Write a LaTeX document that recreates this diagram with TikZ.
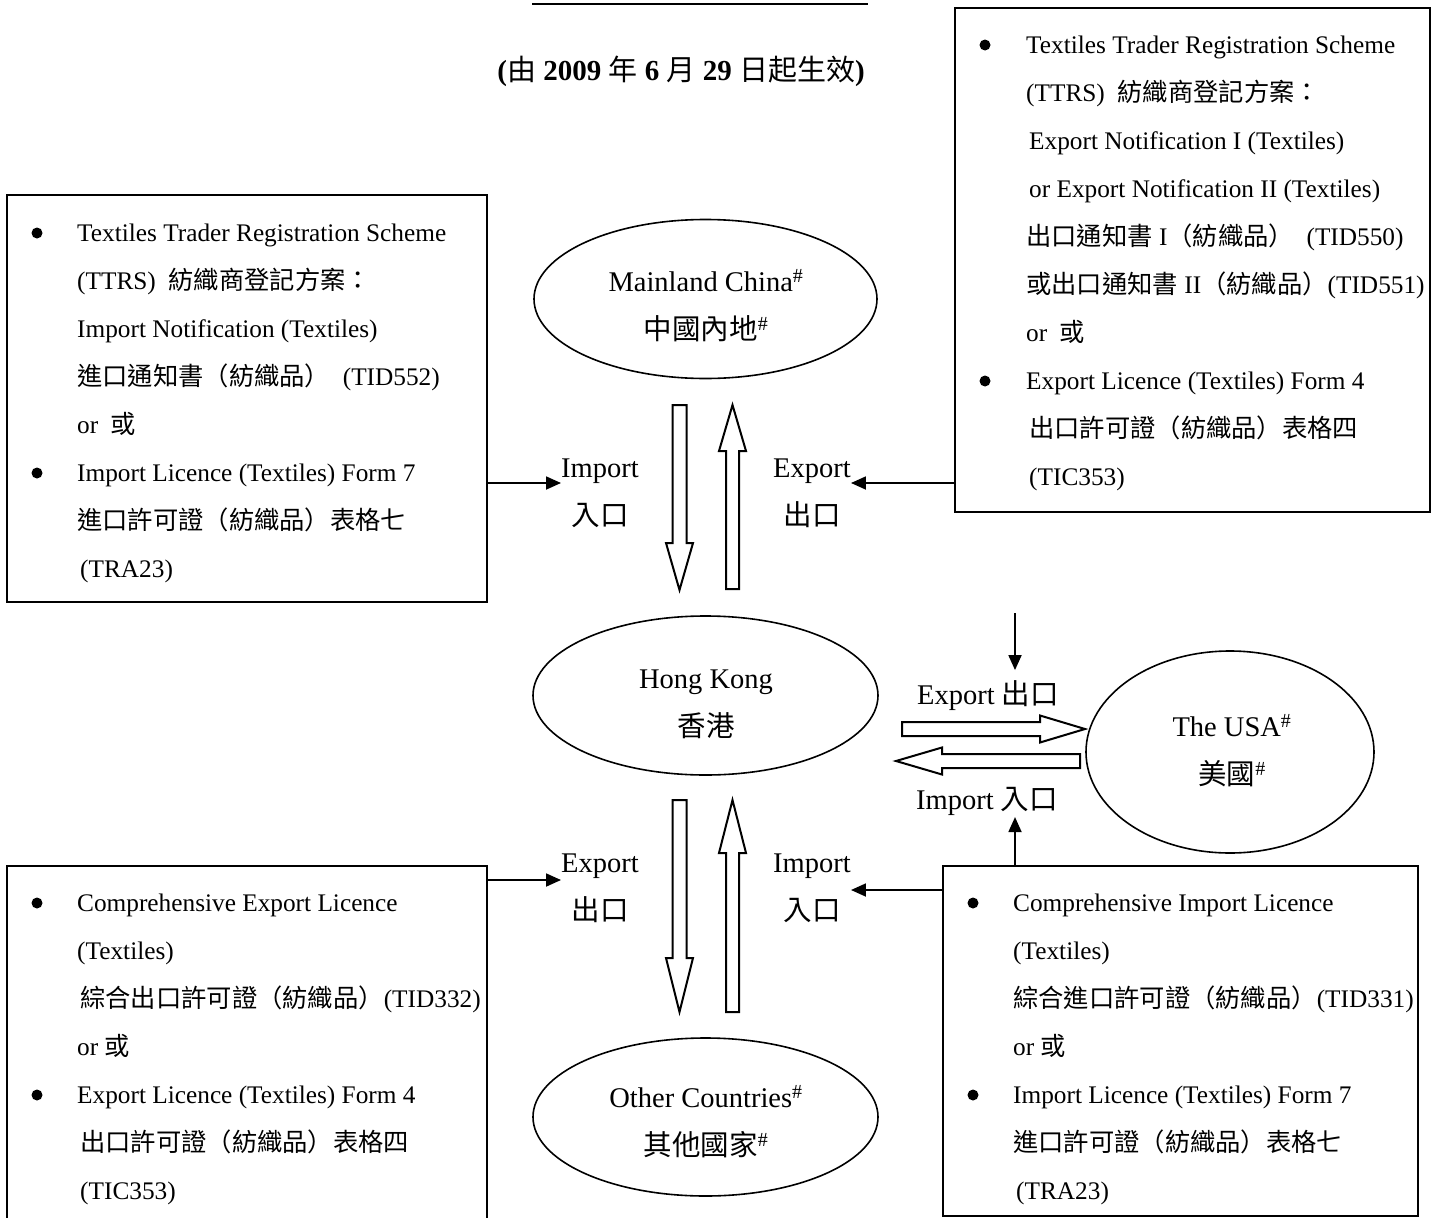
\documentclass[tikz,border=0pt]{standalone}
\usepackage{fontspec}
\setmainfont{Liberation Serif}
\newfontfamily\zhfont{Noto Sans CJK TC}
\newcommand{\zh}[1]{{\zhfont\mdseries #1}}
\usetikzlibrary{shapes.geometric,arrows.meta}
\begin{document}
\begin{tikzpicture}[x=1pt,y=-1pt,
  box/.style={draw,line width=1.8pt,inner sep=0pt},
  boxtext/.style={anchor=north west,inner sep=0pt,align=left,font=\fontsize{25.3}{48}\selectfont},
  ell/.style={draw,ellipse,line width=1.6pt,inner sep=0pt},
  lbl/.style={inner sep=0pt,align=center,font=\fontsize{28.5}{48}\selectfont},
  conn/.style={line width=1.8pt,-{Triangle[length=15pt,width=13pt]}},
  blk/.style={draw,line width=2pt,fill=white,line join=miter}]
\fill[white] (0,0) rectangle (1435,1218);
\useasboundingbox (0,0) rectangle (1435,1218);

% title (cut off at the top) and subtitle
\draw[line width=2pt] (532,3.5) -- (868,3.5);
\node[inner sep=0pt,anchor=base,font=\fontsize{29}{29}\selectfont\bfseries] (sub) at (681,80)
  {(\zh{由} 2009 \zh{年} 6 \zh{月} 29 \zh{日起生效})};

% boxes
\node[box,minimum width=480,minimum height=407] (tl) at (247,398.5) {};
\node[box,minimum width=475,minimum height=504] (tr) at (1192.5,260) {};
\node[box,minimum width=480,minimum height=358] (bl) at (247,1045) {};
\node[box,minimum width=475,minimum height=350] (br) at (1180.5,1041) {};

\node[boxtext] (tlt) at (77,207.4) {%
\strut Textiles Trader Registration Scheme\\
\strut (TTRS)\ \ \zh{紡織商登記方案：}\\
\strut Import Notification (Textiles)\\
\strut \zh{進口通知書（紡織品）}\ \ (TID552)\\
\strut or\ \ \zh{或}\\
\strut Import Licence (Textiles) Form 7\\
\strut \zh{進口許可證（紡織品）表格七}\\
\strut\hspace*{3pt}(TRA23)};
\fill (37,233) circle (5.5pt);
\fill (37,473) circle (5.5pt);

\node[boxtext] (trt) at (1026,19.4) {%
\strut Textiles Trader Registration Scheme\\
\strut (TTRS)\ \ \zh{紡織商登記方案：}\\
\strut\hspace*{3pt}Export Notification I (Textiles)\\
\strut\hspace*{3pt}or Export Notification II (Textiles)\\
\strut \zh{出口通知書} I\zh{（紡織品）}\ \ (TID550)\\
\strut \zh{或出口通知書} II\zh{（紡織品）}(TID551)\\
\strut or\ \ \zh{或}\\
\strut Export Licence (Textiles) Form 4\\
\strut\hspace*{3pt}\zh{出口許可證（紡織品）表格四}\\
\strut\hspace*{3pt}(TIC353)};
\fill (985,45) circle (5.5pt);
\fill (985,381) circle (5.5pt);

\node[boxtext] (blt) at (77,877.4) {%
\strut Comprehensive Export Licence\\
\strut (Textiles)\\
\strut\hspace*{3pt}\zh{綜合出口許可證（紡織品）}(TID332)\\
\strut or \zh{或}\\
\strut Export Licence (Textiles) Form 4\\
\strut\hspace*{3pt}\zh{出口許可證（紡織品）表格四}\\
\strut\hspace*{3pt}(TIC353)};
\fill (37,903) circle (5.5pt);
\fill (37,1095) circle (5.5pt);

\node[boxtext] (brt) at (1013,877.4) {%
\strut Comprehensive Import Licence\\
\strut (Textiles)\\
\strut \zh{綜合進口許可證（紡織品）}(TID331)\\
\strut or \zh{或}\\
\strut Import Licence (Textiles) Form 7\\
\strut \zh{進口許可證（紡織品）表格七}\\
\strut\hspace*{3pt}(TRA23)};
\fill (973,903) circle (5.5pt);
\fill (973,1095) circle (5.5pt);

% ellipses
\node[ell,minimum width=343,minimum height=159] (mc) at (705.5,299) {};
\node[ell,minimum width=345,minimum height=159] (hk) at (705.5,695.5) {};
\node[ell,minimum width=345,minimum height=158] (oc) at (705.5,1117) {};
\node[ell,minimum width=288,minimum height=202] (us) at (1230,752) {};

\node[lbl] (mct) at (706,306) {\strut Mainland China\textsuperscript{\#}\\\strut\zh{中國內地}\textsuperscript{\#}};
\node[lbl] (hkt) at (706,703) {\strut Hong Kong\\\strut\zh{香港}};
\node[lbl] (oct) at (706,1122) {\strut Other Countries\textsuperscript{\#}\\\strut\zh{其他國家}\textsuperscript{\#}};
\node[lbl] (ust) at (1232,751) {\strut The USA\textsuperscript{\#}\\\strut\zh{美國}\textsuperscript{\#}};

% labels
\node[lbl] (lab1) at (600,492) {\strut Import\\\strut\zh{入口}};
\node[lbl] (lab2) at (812,492) {\strut Export\\\strut\zh{出口}};
\node[lbl] (lab3) at (600,887) {\strut Export\\\strut\zh{出口}};
\node[lbl] (lab4) at (812,887) {\strut Import\\\strut\zh{入口}};
\node[lbl,anchor=base,outer ysep=10pt] (lab5) at (988,704) {Export \zh{出口}};
\node[lbl,anchor=base,outer ysep=2pt] (lab6) at (987,809) {Import \zh{入口}};

% block arrows
\draw[blk] (672.5,405) -- (686.5,405) -- (686.5,543) -- (693,543) -- (679.5,590) -- (666,543) -- (672.5,543) -- cycle;
\draw[blk] (726,589) -- (739,589) -- (739,451) -- (746,451) -- (732.5,405) -- (719,451) -- (726,451) -- cycle;
\draw[blk] (672.5,800) -- (686.5,800) -- (686.5,958) -- (693,958) -- (679.5,1012) -- (666,958) -- (672.5,958) -- cycle;
\draw[blk] (726,1012) -- (739,1012) -- (739,853) -- (746,853) -- (732.5,800) -- (719,853) -- (726,853) -- cycle;
\draw[blk] (902,722) -- (1040,722) -- (1040,715.5) -- (1085,729) -- (1040,742.5) -- (1040,736) -- (902,736) -- cycle;
\draw[blk] (1080,754) -- (942,754) -- (942,747.5) -- (896,761) -- (942,774.5) -- (942,768) -- (1080,768) -- cycle;

% connectors
\coordinate (ya) at (0,483);
\coordinate (yb) at (0,880);
\coordinate (yc) at (0,890);
\coordinate (free) at (1015,613);
\draw[conn] (tl.east |- ya) -- (lab1.west |- ya);
\draw[conn] (tr.west |- ya) -- (lab2.east |- ya);
\draw[conn] (bl.east |- yb) -- (lab3.west |- yb);
\draw[conn] (br.west |- yc) -- (lab4.east |- yc);
\draw[conn] (free) -- (free |- lab5.north);
\draw[conn] (free |- br.north) -- (free |- lab6.south);
\end{tikzpicture}
\end{document}
